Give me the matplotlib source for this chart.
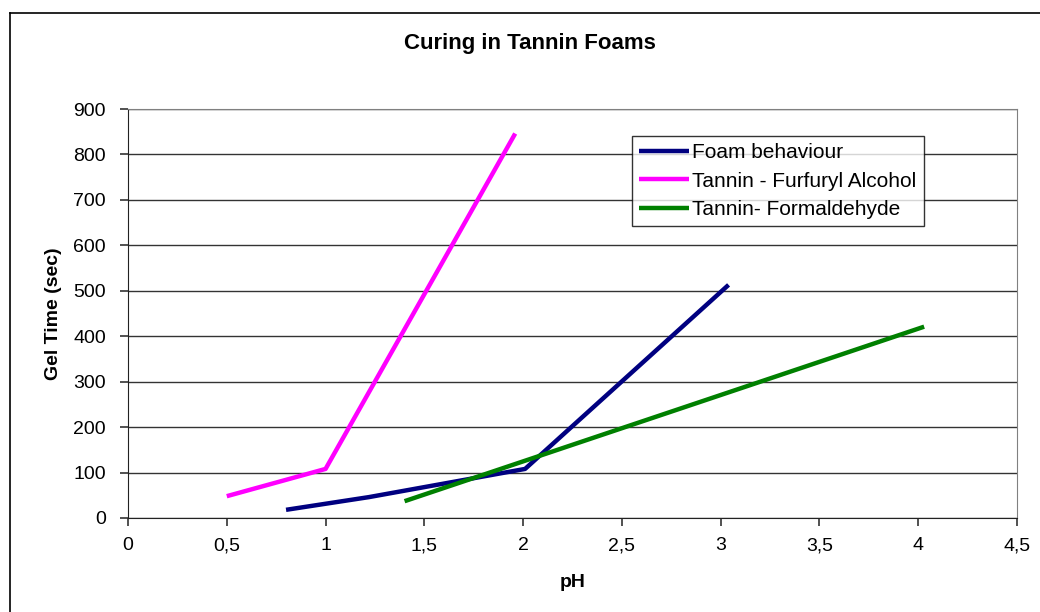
import matplotlib
matplotlib.use("Agg")
import matplotlib.pyplot as plt
from matplotlib.ticker import FuncFormatter, MultipleLocator
from matplotlib.lines import Line2D

plt.rcParams['font.family'] = ['Liberation Sans', 'DejaVu Sans']

title = "Curing in Tannin Foams"
xlabel = "pH"
ylabel = "Gel Time (sec)"

foam_x = [0.8, 1.22, 2.01, 3.04]
foam_y = [18, 46, 108, 513]
furf_x = [0.5, 1.0, 1.96]
furf_y = [48, 108, 846]
form_x = [1.4, 4.03]
form_y = [37, 421]

series = [
    ("Foam behaviour", foam_x, foam_y, "#000080"),
    ("Tannin - Furfuryl Alcohol", furf_x, furf_y, "#FF00FF"),
    ("Tannin- Formaldehyde", form_x, form_y, "#008000"),
]

fig = plt.figure(figsize=(10.4, 6.12), dpi=100)
ax = fig.add_axes([128/1040, 1 - 518/612, (1017-128)/1040, (518-109)/612])

for name, xs, ys, c in series:
    ax.plot(xs, ys, color=c, lw=3.2, label=name, solid_capstyle='butt')

ax.set_xlim(0, 4.5)
ax.set_ylim(0, 900)
ax.xaxis.set_major_locator(MultipleLocator(0.5))
ax.yaxis.set_major_locator(MultipleLocator(100))
fmt = FuncFormatter(lambda v, p: (f"{v:g}").replace(".", ","))
ax.xaxis.set_major_formatter(fmt)
ax.grid(axis='y', color='#333333', lw=1.0)
ax.set_axisbelow(True)
for s in ['top', 'right']:
    ax.spines[s].set_color('#808080')
for s in ['left', 'bottom']:
    ax.spines[s].set_color('#222222')
ax.tick_params(axis='both', direction='out', length=6, width=1.2, color='#333333', labelsize=14)
ax.tick_params(axis='x', pad=8)
ax.tick_params(axis='y', pad=10)

ax.set_xlabel(xlabel, fontsize=14, fontweight='bold', labelpad=14)
ax.set_ylabel(ylabel, fontsize=14, fontweight='bold', labelpad=8)
fig.text(530/1040, 1 - 43/612, title, ha='center', va='center', fontsize=16, fontweight='bold')

leg = ax.legend(loc='upper left', bbox_to_anchor=((632-128)/889, (518-136)/409), frameon=True,
                fancybox=False, edgecolor='black', fontsize=15, handlelength=2.4,
                handletextpad=0.15, borderpad=0.35, labelspacing=0.45, borderaxespad=0)
leg.get_frame().set_linewidth(1.0)

fig.add_artist(Line2D([10/1040, 10/1040], [0, 1 - 13/612], transform=fig.transFigure, color='black', lw=1.2))
fig.add_artist(Line2D([10/1040, 1], [1 - 13/612, 1 - 13/612], transform=fig.transFigure, color='black', lw=1.2))

fig.savefig("out.png", dpi=100)
